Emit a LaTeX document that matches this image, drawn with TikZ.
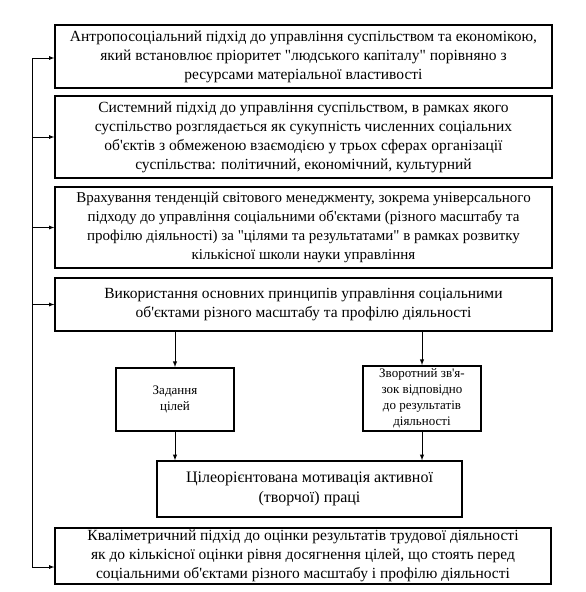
\documentclass[tikz,border=0pt]{standalone}
\usepackage{fontspec}
\setmainfont{Liberation Serif}[Ligatures=TeXOff]
\begin{document}
\begin{tikzpicture}[>=latex,x=1pt,y=-1pt,
	box/.style={draw,line width=1.3pt,align=center,inner sep=1pt,font=\fontsize{15.5}{19}\selectfont},
	small/.style={draw,line width=1.8pt,align=center,inner sep=1pt,font=\fontsize{13}{16}\selectfont}]
	\useasboundingbox (0,0) rectangle (586,592);
	\node[box,minimum width=497,minimum height=63] (A) at (303.5,56.5) {Антропосоціальний підхід до управління суспільством та економікою,\\який встановлює пріоритет "людського капіталу" порівняно з\\ресурсами матеріальної властивості};
	\node[box,minimum width=497,minimum height=82] (B) at (303.5,137) {Системний підхід до управління суспільством, в рамках якого\\суспільство розглядається як сукупність численних соціальних\\об'єктів з обмеженою взаємодією у трьох сферах організації\\суспільства: політичний, економічний, культурний};
	\node[box,font=\fontsize{15}{19}\selectfont,minimum width=497,minimum height=81] (C) at (303.5,227.5) {Врахування тенденцій світового менеджменту, зокрема універсального\\підходу до управління соціальними об'єктами (різного масштабу та\\профілю діяльності) за "цілями та результатами" в рамках розвитку\\кількісної школи науки управління};
	\node[box,minimum width=497,minimum height=53] (D) at (303.5,304.5) {Використання основних принципів управління соціальними\\об'єктами різного масштабу та профілю діяльності};
	\node[small,minimum width=118,minimum height=63] (E) at (175,399.5) {Задання\\цілей};
	\node[small,minimum width=118,minimum height=65] (F) at (422,398.5) {Зворотний зв'я-\\зок відповідно\\до результатів\\діяльності};
	\node[box,font=\fontsize{16}{20}\selectfont,minimum width=305,minimum height=56] (G) at (309.5,489) {Цілеорієнтована мотивація активної\\(творчої) праці};
	\node[box,minimum width=496,minimum height=56] (H) at (303,556) {Кваліметричний підхід до оцінки результатів трудової діяльності\\як до кількісної оцінки рівня досягнення цілей, що стоять перед\\соціальними об'єктами різного масштабу і профілю діяльності};
	% left feedback line
	\coordinate (L) at (32,58);
	\coordinate (M) at (32,567);
	\draw[line width=0.8pt] (L)--(M);
	\draw[->,line width=0.8pt] (L)--(L -| A.west);
	\draw[->,line width=0.8pt] (L |- B.west)--(B.west);
	\draw[->,line width=0.8pt] (L |- C.west)--(C.west);
	\draw[->,line width=0.8pt] (L |- D.west)--(D.west);
	\draw[->,line width=0.8pt] (M)--(M -| H.west);
	% middle arrows
	\draw[->,line width=1pt] (E.north |- D.south)--(E.north);
	\draw[->,line width=1pt] (F.north |- D.south)--(F.north);
	\draw[->,line width=1pt] (E.south)--(E.south |- G.north);
	\draw[->,line width=1pt] (F.south)--(F.south |- G.north);
\end{tikzpicture}
\end{document}
